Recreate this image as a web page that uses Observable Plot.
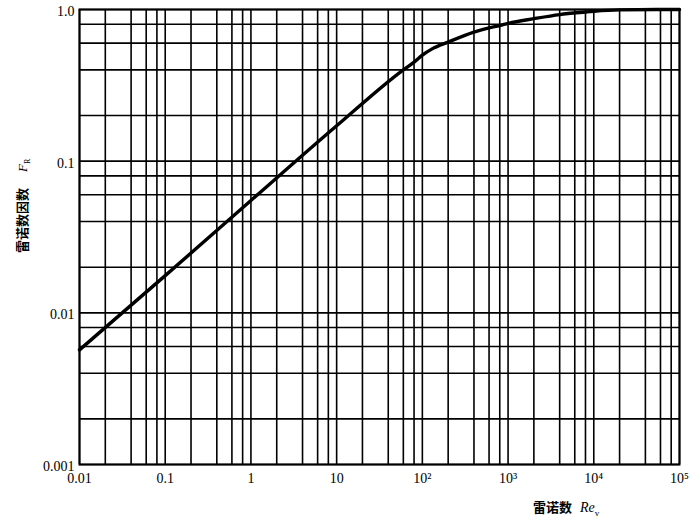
<!DOCTYPE html>
<html><head><meta charset="utf-8">
<script src="https://cdn.jsdelivr.net/npm/d3@7"></script>
<script src="https://cdn.jsdelivr.net/npm/@observablehq/plot@0.6"></script>
<style>body{margin:0;background:#fff}</style>
</head><body><div id="chart"></div>
<script>
const reynolds = [0.01, 0.1, 1, 10, 60, 80, 100, 130, 200, 400, 600, 800, 1000, 2000, 4000, 8000, 10000, 20000, 100000];
const factor   = [0.0057, 0.0176, 0.055, 0.171, 0.40, 0.45, 0.50, 0.55, 0.61, 0.71, 0.757, 0.784, 0.81, 0.87, 0.926, 0.963, 0.974, 0.995, 1.0];
const xTickValues = [0.01, 0.1, 1, 10, 100, 1000, 10000, 100000];
const xTickLabels = ["0.01", "0.1", "1", "10", "10²", "10³", "10⁴", "10⁵"];
const yTickValues = [0.001, 0.01, 0.1, 1];
const yTickLabels = ["0.001", "0.01", "0.1", "1.0"];
const gridMultipliers = [1, 2, 4, 6, 8];
const xDecades = [0.01, 0.1, 1, 10, 100, 1000, 10000];
const yDecades = [0.001, 0.01, 0.1];

const data = reynolds.map((r, i) => ({re: r, f: factor[i]}));
const xGrid = xDecades.flatMap(d => gridMultipliers.map(m => d * m)).concat([100000]);
const yGrid = yDecades.flatMap(d => gridMultipliers.map(m => d * m)).concat([1]);
const xLab = new Map(xTickValues.map((v, i) => [v, xTickLabels[i]]));
const yLab = new Map(yTickValues.map((v, i) => [v, yTickLabels[i]]));

const chart = Plot.plot({
  width: 698, height: 519,
  marginLeft: 79, marginRight: 19, marginTop: 9, marginBottom: 55,
  x: {type: "log", domain: [0.01, 100000]},
  y: {type: "log", domain: [0.001, 1]},
  style: {fontFamily: "'Liberation Serif', serif", fontSize: "14px", color: "#000", background: "#fff"},
  marks: [
    Plot.ruleX(xGrid, {stroke: "#000", strokeWidth: 1.6}),
    Plot.ruleY(yGrid, {stroke: "#000", strokeWidth: 1.6}),
    Plot.frame({stroke: "#000", strokeWidth: 2}),
    Plot.line(data, {x: "re", y: "f", stroke: "#000", strokeWidth: 3.4, curve: "monotone-x"}),
    Plot.axisX(xTickValues, {tickSize: 0, tickPadding: 9, tickFormat: d => xLab.get(d), label: null, fontSize: 14}),
    Plot.axisY(yTickValues, {tickSize: 0, tickPadding: 5, tickFormat: d => yLab.get(d), label: null, fontSize: 14, dy: 2})
  ]
});
document.getElementById("chart").appendChild(chart);

const svg = d3.select(chart);
const xl = svg.append("text").attr("x", 533).attr("y", 512).attr("fill", "#000").attr("text-anchor", "start");
xl.append("tspan").attr("font-family", "'Noto Sans CJK SC', sans-serif").attr("font-weight", "bold").attr("font-size", 13).text("雷诺数");
xl.append("tspan").attr("font-family", "'Liberation Serif', serif").attr("font-style", "italic").attr("font-size", 14).attr("dx", 8).text("Re");
xl.append("tspan").attr("font-family", "'Liberation Serif', serif").attr("font-size", 9).attr("dy", 4).text("v");

const yl = svg.append("text").attr("transform", "translate(27,253) rotate(-90)").attr("fill", "#000").attr("text-anchor", "start");
yl.append("tspan").attr("font-family", "'Noto Sans CJK SC', sans-serif").attr("font-weight", "bold").attr("font-size", 13).text("雷诺数因数");
yl.append("tspan").attr("font-family", "'Liberation Serif', serif").attr("font-style", "italic").attr("font-size", 13).attr("dx", 16).text("F");
yl.append("tspan").attr("font-family", "'Liberation Serif', serif").attr("font-size", 8).attr("dy", 3).text("R");
</script>
</body></html>
